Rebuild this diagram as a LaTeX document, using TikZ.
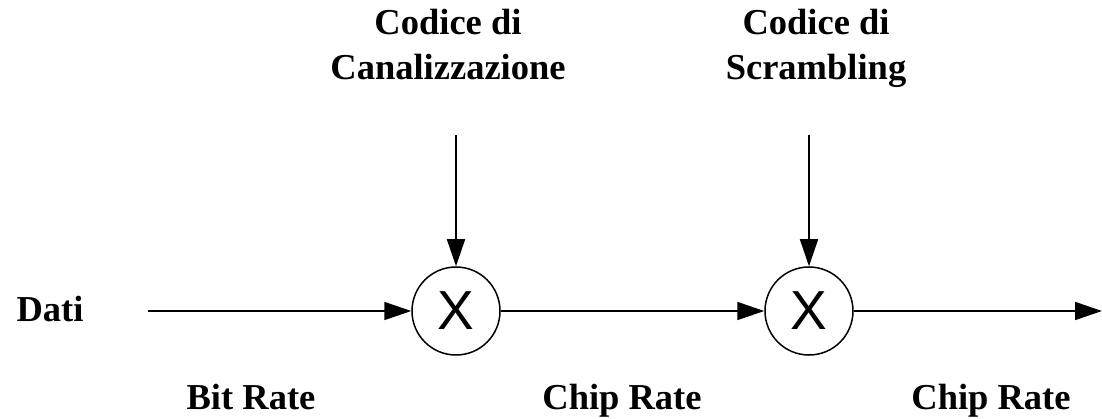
\documentclass[tikz,border=0pt]{standalone}
\usepackage{fontspec}
\setmainfont{Liberation Serif}
\newfontfamily\mulfont{Liberation Sans}
\usetikzlibrary{arrows.meta}
\begin{document}
\begin{tikzpicture}[x=1pt,y=-1pt,
  lbl/.style={font=\fontsize{36.5}{45}\selectfont\bfseries, align=center, inner sep=0pt, anchor=base},
  mixer/.style={circle, draw, line width=1.5pt, minimum size=88pt, inner sep=0pt,
    font=\mulfont\fontsize{55}{55}\selectfont},
  flow/.style={line width=1.6pt, -{Triangle[length=27pt,width=18pt]}}]
  \useasboundingbox (0,0) rectangle (1102,419);
  % multipliers
  \node[mixer] (m1) at (456,311) {X};
  \node[mixer] (m2) at (809,311) {X};
  % labels (base anchor sits on the last line's baseline)
  \node[lbl] (dati) at (50,321) {Dati};
  \coordinate (din) at (148,311);
  \node[lbl] (cc) at (448,80) {Codice di\\Canalizzazione};
  \node[lbl] (cs) at (816,80) {Codice di\\Scrambling};
  \coordinate (cct) at (456,135);
  \coordinate (cst) at (809,135);
  \coordinate (out) at (1102,311);
  \node[lbl] (br) at (251,409) {Bit Rate};
  \node[lbl] (cr1) at (622,409) {Chip Rate};
  \node[lbl] (cr2) at (991,409) {Chip Rate};
  % connectors
  \draw[flow] (din) -- (m1);
  \draw[flow] (m1) -- (m2);
  \draw[flow] (m2) -- (out);
  \draw[flow] (cct) -- (m1);
  \draw[flow] (cst) -- (m2);
\end{tikzpicture}
\end{document}
